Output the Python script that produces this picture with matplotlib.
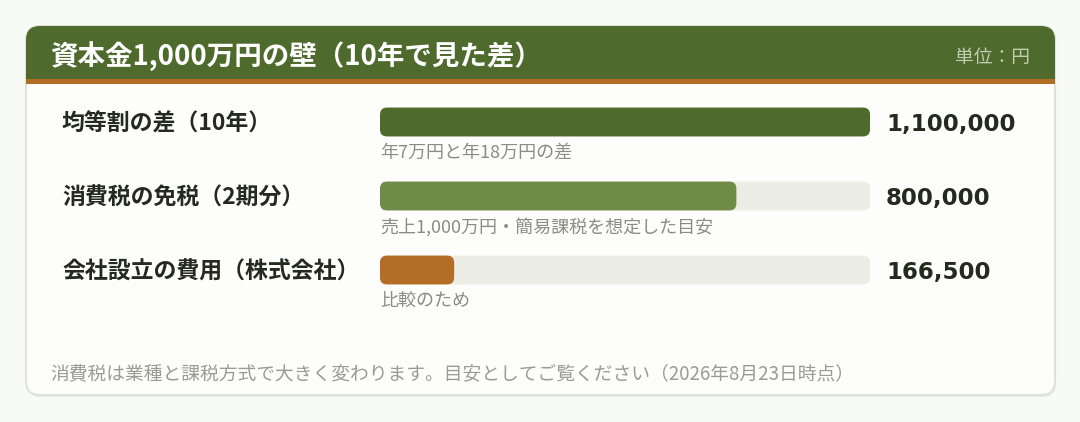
import matplotlib
matplotlib.use('Agg')
import matplotlib.pyplot as plt
import matplotlib.patches as patches

plt.rcParams['font.family'] = ['Noto Sans CJK JP', 'DejaVu Sans']

# data
title = '資本金1,000万円の壁（10年で見た差）'
unit = '単位：円'
labels = ['均等割の差（10年）', '消費税の免税（2期分）', '会社設立の費用（株式会社）']
values = [1100000, 800000, 166500]
notes = ['年7万円と年18万円の差', '売上1,000万円・簡易課税を想定した目安', '比較のため']
value_text = ['1,100,000', '800,000', '166,500']
bar_colors = ['#4f6a2d', '#6f8b47', '#b46d24']
footer = '消費税は業種と課税方式で大きく変わります。目安としてご覧ください（2026年8月23日時点）'

W, H = 1080, 422
fig = plt.figure(figsize=(W / 100, H / 100), dpi=100)
fig.patch.set_facecolor('#f8faf5')

bg = fig.add_axes([0, 0, 1, 1])
bg.set_xlim(0, W)
bg.set_ylim(H, 0)
bg.axis('off')

# card + shadow
shadow = patches.FancyBboxPatch((27, 28), 1029, 369, boxstyle='round,pad=0,rounding_size=14',
                                fc='#e6e9e0', ec='none', zorder=1)
bg.add_patch(shadow)
card = patches.FancyBboxPatch((26, 26), 1029, 369, boxstyle='round,pad=0,rounding_size=14',
                              fc='#fdfefb', ec='#dfe3d7', lw=1.5, zorder=2)
bg.add_patch(card)

# header
head = patches.FancyBboxPatch((26, 26), 1029, 54, boxstyle='round,pad=0,rounding_size=14',
                              fc='#4f6a2d', ec='none', zorder=3)
bg.add_patch(head)
bg.add_patch(patches.Rectangle((26, 56), 1029, 24, fc='#4f6a2d', ec='none', zorder=3))
bg.add_patch(patches.Rectangle((26, 79), 1029, 5, fc='#b46d24', ec='none', zorder=3))

bg.text(50, 56, title, color='white', fontsize=19.8, fontweight='bold',
        va='center', ha='left', zorder=4)
bg.text(1030, 58, unit, color='#c3ccb2', fontsize=13.5, va='center', ha='right', zorder=4)

# bars
ax = fig.add_axes([380 / W, 1 - 307 / H, 490 / W, 222 / H])
ax.set_xlim(0, max(values))
ax.set_ylim(2.5, -0.5)
ax.axis('off')
ax.patch.set_alpha(0)

bh = 0.39
xr = max(values) / 490
asp = (1 / 74) / xr
for i, v in enumerate(values):
    track = patches.FancyBboxPatch((0, i - bh / 2), max(values), bh,
                                   boxstyle='round,pad=0,rounding_size=%f' % (7 * xr),
                                   mutation_aspect=asp, fc='#eceee5', ec='none', zorder=1)
    ax.add_patch(track)
    bar = patches.FancyBboxPatch((0, i - bh / 2), v, bh,
                                 boxstyle='round,pad=0,rounding_size=%f' % (7 * xr),
                                 mutation_aspect=asp, fc=bar_colors[i], ec='none', zorder=2)
    ax.add_patch(bar)

ys = [122, 196, 270]
for i in range(len(labels)):
    bg.text(62, ys[i] + 2, labels[i], color='#26291e', fontsize=16.5, fontweight='bold',
            va='center', ha='left', zorder=4)
    bg.text(886, ys[i] + 2, value_text[i], color='#26291e', fontsize=16.5, fontweight='bold',
            family='DejaVu Sans', va='center', ha='left', zorder=4)
    bg.text(380, ys[i] + 31, notes[i], color='#8b8d82', fontsize=13,
            va='center', ha='left', zorder=4)

bg.text(50, 374, footer, color='#9a9c92', fontsize=13.5, va='center', ha='left', zorder=4)

fig.savefig('out.png', dpi=100, facecolor=fig.get_facecolor())
